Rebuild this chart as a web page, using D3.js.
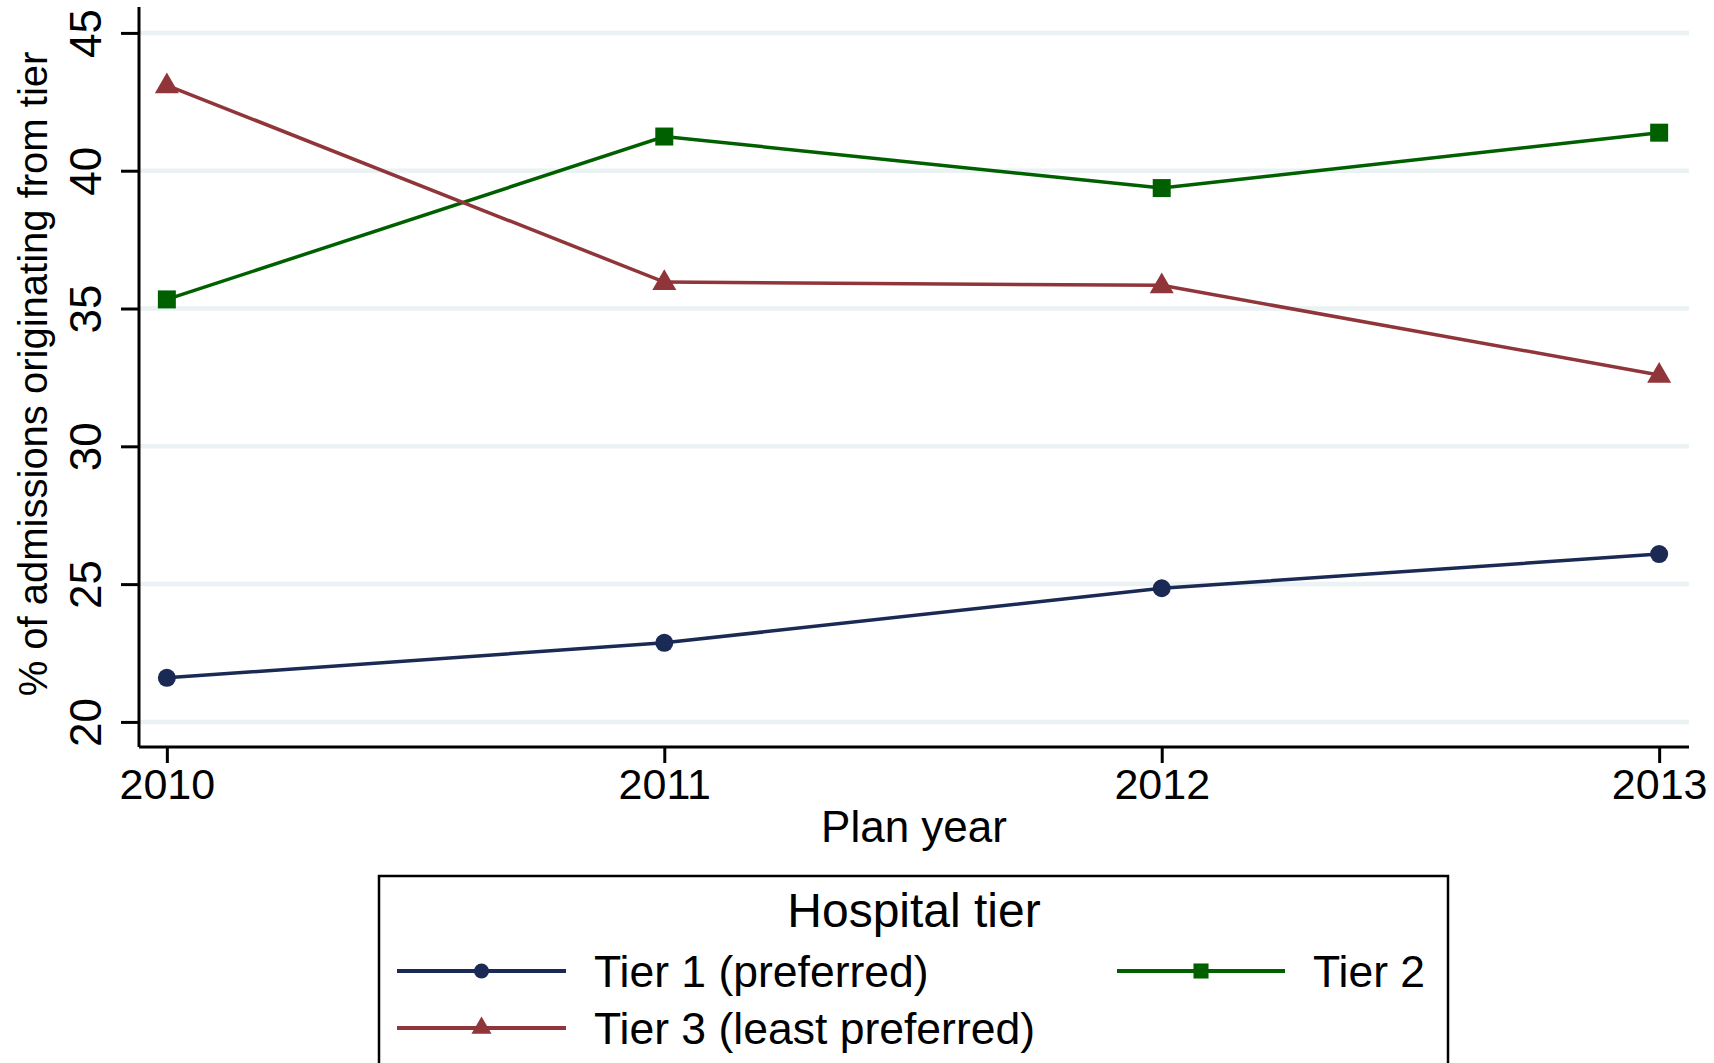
<!DOCTYPE html>
<html>
<head>
<meta charset="utf-8">
<script src="https://cdn.jsdelivr.net/npm/d3@7"></script>
<style>
  html, body { margin: 0; padding: 0; background: #fff; }
  svg { display: block; font-family: Arial, "Liberation Sans", sans-serif; }
</style>
</head>
<body>
<svg id="chart" width="1714" height="1063"></svg>
<script>
const years = [2010, 2011, 2012, 2013];
const tier1 = [21.6, 22.87, 24.85, 26.09];
const tier2 = [35.33, 41.24, 39.37, 41.38];
const tier3 = [43.1, 35.96, 35.84, 32.59];
const yTicks = [20, 25, 30, 35, 40, 45];
const seriesNames = ["Tier 1 (preferred)", "Tier 2", "Tier 3 (least preferred)"];
const legendTitle = "Hospital tier";
const xTitle = "Plan year";
const yTitle = "% of admissions originating from tier";

(function () {
const series = [
  { name: seriesNames[0], values: tier1, color: "#1b2a55", symbol: d3.symbolCircle, size: 255 },
  { name: seriesNames[1], values: tier2, color: "#006000", symbol: d3.symbolSquare, size: 324 },
  { name: seriesNames[2], values: tier3, color: "#903539", symbol: d3.symbolTriangle, size: 250 }
];

const svg = d3.select("#chart");
const pL = 139, pR = 1689, pT = 7, pB = 747;

const x = d3.scaleLinear().domain([2009.944, 2013.06]).range([pL, pR]);
const y = d3.scaleLinear().domain([19.09, 45.94]).range([pB, pT]);

// gridlines
svg.append("g").selectAll("line").data(yTicks).join("line")
  .attr("x1", pL).attr("x2", pR)
  .attr("y1", d => y(d)).attr("y2", d => y(d))
  .attr("stroke", "#eaf2f3").attr("stroke-width", 4.5);

// y axis
const yAxis = svg.append("g").attr("transform", `translate(${pL},0)`)
  .call(d3.axisLeft(y).tickValues(yTicks).tickSize(18).tickFormat(d3.format("d")));
yAxis.select(".domain").attr("stroke", "#000").attr("stroke-width", 3)
  .attr("d", `M0,${pT}V${pB}`);
yAxis.selectAll(".tick line").attr("stroke", "#000").attr("stroke-width", 3);
yAxis.selectAll(".tick text")
  .attr("x", null).attr("dy", null)
  .attr("transform", "translate(-38,0) rotate(-90)")
  .attr("text-anchor", "middle")
  .attr("font-size", 44).attr("fill", "#000")
  .attr("font-family", "Arial, 'Liberation Sans', sans-serif");

// x axis
const xAxis = svg.append("g").attr("transform", `translate(0,${pB})`)
  .call(d3.axisBottom(x).tickValues(years).tickSize(16).tickFormat(d3.format("d")));
xAxis.select(".domain").attr("stroke", "#000").attr("stroke-width", 3)
  .attr("d", `M${pL},0H${pR}`);
xAxis.selectAll(".tick line").attr("stroke", "#000").attr("stroke-width", 3);
xAxis.selectAll(".tick text")
  .attr("y", 52).attr("dy", null)
  .attr("font-size", 43).attr("fill", "#000")
  .attr("font-family", "Arial, 'Liberation Sans', sans-serif");

// axis titles
svg.append("text").attr("x", 914).attr("y", 842)
  .attr("text-anchor", "middle").attr("font-size", 44).attr("fill", "#000").text(xTitle);
svg.append("text").attr("transform", `translate(47,374) rotate(-90)`)
  .attr("text-anchor", "middle").attr("font-size", 40).attr("fill", "#000").text(yTitle);

// lines and markers
const line = d3.line().x((d, i) => x(years[i])).y(d => y(d));
series.forEach(s => {
  svg.append("path").datum(s.values).attr("d", line)
    .attr("fill", "none").attr("stroke", s.color).attr("stroke-width", 3.5);
  svg.append("g").selectAll("path").data(s.values).join("path")
    .attr("d", d3.symbol().type(s.symbol).size(s.size))
    .attr("transform", (d, i) => `translate(${x(years[i])},${y(d) + (s.symbol === d3.symbolTriangle ? 1 : 0)})`)
    .attr("fill", s.color);
});

// legend
const lg = svg.append("g");
lg.append("rect").attr("x", 379).attr("y", 876).attr("width", 1069).attr("height", 200)
  .attr("fill", "#fff").attr("stroke", "#000").attr("stroke-width", 2.5);
lg.append("text").attr("x", 914).attr("y", 927).attr("text-anchor", "middle")
  .attr("font-size", 48).attr("fill", "#000").text(legendTitle);

const legendPos = [
  { x1: 397, x2: 566, tx: 594, cy: 971 },
  { x1: 1117, x2: 1285, tx: 1313, cy: 971 },
  { x1: 397, x2: 566, tx: 594, cy: 1028 }
];
series.forEach((s, i) => {
  const p = legendPos[i];
  lg.append("line").attr("x1", p.x1).attr("x2", p.x2).attr("y1", p.cy).attr("y2", p.cy)
    .attr("stroke", s.color).attr("stroke-width", 4);
  lg.append("path").attr("d", d3.symbol().type(s.symbol).size(s.size * 0.7))
    .attr("transform", `translate(${(p.x1 + p.x2) / 2},${p.cy})`).attr("fill", s.color);
  lg.append("text").attr("x", p.tx).attr("y", p.cy + 16)
    .attr("font-size", 44.5).attr("fill", "#000").text(s.name);
});
})();
</script>
</body>
</html>
